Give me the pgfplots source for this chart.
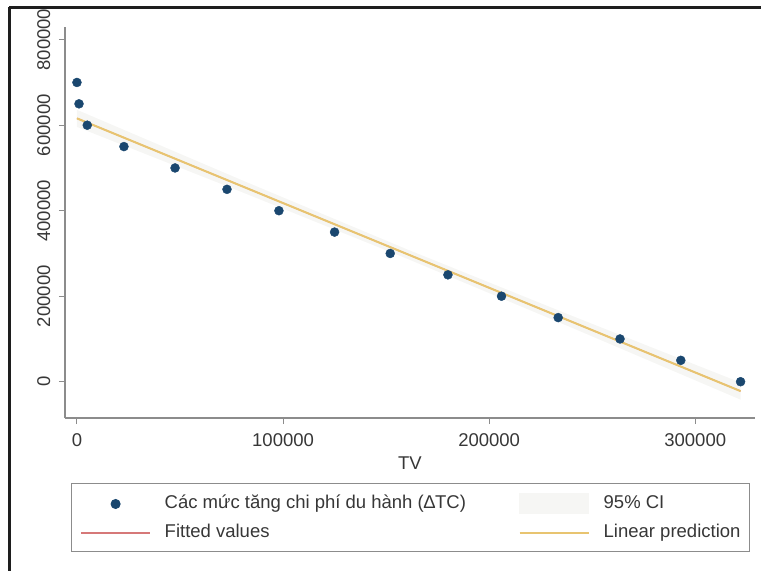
\documentclass[border=0pt]{standalone}
\usepackage{pgfplots}
\pgfplotsset{compat=1.18}
\usepackage{fontspec}
\setmainfont{Liberation Sans}
\definecolor{stnavy}{RGB}{26,71,111}
\definecolor{goldline}{RGB}{232,196,112}
\definecolor{fitred}{RGB}{214,120,120}
\definecolor{cigray}{RGB}{246,246,244}
\definecolor{txt}{RGB}{55,55,55}
\definecolor{axgray}{RGB}{140,140,140}
\definecolor{frame}{RGB}{30,30,30}
\newcommand{\chartfont}{\fontsize{18.5}{22}\selectfont}
\begin{document}
\begin{tikzpicture}[x=1pt,y=1pt]
\path[use as bounding box] (0,0) rectangle (761,-571);
\draw[frame, line width=3pt] (9,-7) -- (761,-7);
\draw[frame, line width=3pt] (9,-7) -- (9,-571);
\begin{axis}[
  at={(65pt,-418pt)}, anchor=south west,
  scale only axis, width=690pt, height=391pt,
  xmin=-5800, xmax=329000, ymin=-84900, ymax=829700,
  axis x line=bottom, axis y line=left,
  axis line style={-, draw=axgray, line width=1.3pt},
  tick align=outside, major tick length=6pt,
  tick style={draw=axgray, line width=1pt},
  xtick={0,100000,200000,300000},
  ytick={0,200000,400000,600000,800000},
  scaled ticks=false,
  /pgf/number format/fixed,
  /pgf/number format/precision=0,
  /pgf/number format/1000 sep={},
  /pgf/number format/assume math mode=true,
  ticklabel style={font=\chartfont, text=txt},
  yticklabel style={rotate=90, anchor=south, inner sep=8.5pt},
  xticklabel style={anchor=north, inner sep=9.5pt},
  xlabel={TV},
  xlabel style={font=\chartfont, text=txt, at={(axis description cs:0.5,-0.1151)}, anchor=center},
  legend columns=2, legend cell align=left,
  legend style={at={(axis description cs:0.0087,-0.1662)}, anchor=north west,
    draw=axgray, line width=1pt, inner xsep=9pt, inner ysep=10pt,
    font=\chartfont, text=txt,
    nodes={inner sep=0pt, text height=13pt, text depth=4pt},
    row sep=10pt,
    /tikz/every odd column/.append style={column sep=14pt}},
]
% 95% CI band
\addplot[fill=cigray, draw=none, forget plot] coordinates {
  (0,636000) (80000,471500) (160000,310000) (240000,154500) (322000,-2000)
  (322000,-42000) (240000,126500) (160000,288000) (80000,443500) (0,596000)
} -- cycle;
% Fitted values
\addplot[fitred, line width=1.2pt, forget plot] coordinates {(0,616000) (322000,-22000)};
% Linear prediction
\addplot[goldline, line width=2pt, forget plot] coordinates {(0,616000) (322000,-22000)};
% Scatter
\addplot[only marks, mark=*, mark size=4.5pt, color=stnavy, mark options={fill=stnavy}, forget plot] coordinates {
  (0,700000) (1000,650000) (5000,600000) (22800,550000) (47600,500000)
  (72800,450000) (98000,400000) (125000,350000) (152000,300000) (180000,250000)
  (206000,200000) (233500,150000) (263500,100000) (293000,50000) (322000,0)
};
\addlegendimage{legend image code/.code={\path[draw=none] (0pt,0pt) -- (69pt,0pt); \path[draw=none, mark=*, mark size=4.5pt, mark options={draw=stnavy, fill=stnavy}] plot coordinates {(34.5pt,0pt)};}}
\addlegendentry{\makebox[354pt][l]{Các mức tăng chi phí du hành (∆TC)}}
\addlegendimage{legend image code/.code={\fill[cigray] (0pt,-10pt) rectangle (69pt,10pt);}}
\addlegendentry{95\% CI}
\addlegendimage{legend image code/.code={\draw[fitred, line width=1.2pt] (0pt,0pt) -- (69pt,0pt);}}
\addlegendentry{Fitted values}
\addlegendimage{legend image code/.code={\draw[goldline, line width=2pt] (0pt,0pt) -- (69pt,0pt);}}
\addlegendentry{Linear prediction}
\end{axis}
\end{tikzpicture}
\end{document}
